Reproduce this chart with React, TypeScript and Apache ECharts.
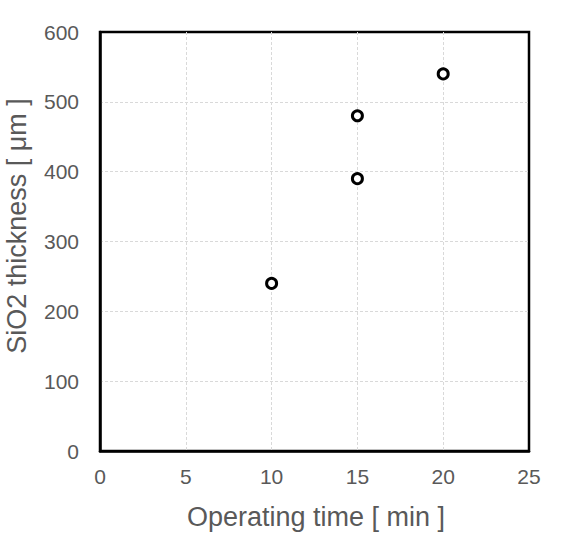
import React, { useEffect, useRef } from "react";
import * as echarts from "echarts";

const xValues = [10, 15, 15, 20];
const yValues = [240, 480, 390, 540];
const xTitle = "Operating time [ min ]";
const yTitle = "SiO2 thickness [ μm ]";

export default function App() {
  const ref = useRef<HTMLDivElement>(null);
  useEffect(() => {
    if (!ref.current) return;
    const chart = echarts.init(ref.current, undefined, { renderer: "svg" });
    const font = "'Liberation Sans', Arial, sans-serif";
    const split = {
      show: true,
      showMinLine: false,
      showMaxLine: false,
      lineStyle: { color: "#d9d9d9", type: [3, 2], width: 1 },
    };
    chart.setOption({
      animation: false,
      backgroundColor: "#ffffff",
      grid: {
        left: 100,
        right: 44,
        top: 32,
        bottom: 106,
        show: true,
        borderColor: "#000000",
        borderWidth: 2.5,
        backgroundColor: "transparent",
      },
      graphic: [
        {
          type: "text",
          x: 316,
          y: 517,
          style: {
            text: xTitle,
            font: `27px ${font}`,
            fill: "#595959",
            textAlign: "center",
            textVerticalAlign: "middle",
          },
        },
        {
          type: "text",
          x: 17,
          y: 226,
          rotation: Math.PI / 2,
          style: {
            text: yTitle,
            font: `27px ${font}`,
            fill: "#595959",
            textAlign: "center",
            textVerticalAlign: "middle",
          },
        },
      ],
      xAxis: {
        type: "value",
        min: 0,
        max: 25,
        interval: 5,
        axisLine: { show: true, lineStyle: { color: "#000000", width: 2.5 } },
        axisTick: { show: false },
        axisLabel: { fontFamily: font, fontSize: 21, color: "#595959", margin: 15 },
        splitLine: split,
      },
      yAxis: {
        type: "value",
        min: 0,
        max: 600,
        interval: 100,
        axisLine: { show: true, lineStyle: { color: "#000000", width: 2.5 } },
        axisTick: { show: false },
        axisLabel: { fontFamily: font, fontSize: 21, color: "#595959", margin: 21 },
        splitLine: split,
      },
      series: [
        {
          type: "scatter",
          data: xValues.map((x, i) => [x, yValues[i]]),
          symbol: "circle",
          symbolSize: 10,
          itemStyle: { color: "#ffffff", borderColor: "#000000", borderWidth: 3, opacity: 1 },
        },
      ],
    });
    return () => chart.dispose();
  }, []);
  return <div ref={ref} style={{ width: 573, height: 557, position: "absolute", left: 0, top: 0 }} />;
}
